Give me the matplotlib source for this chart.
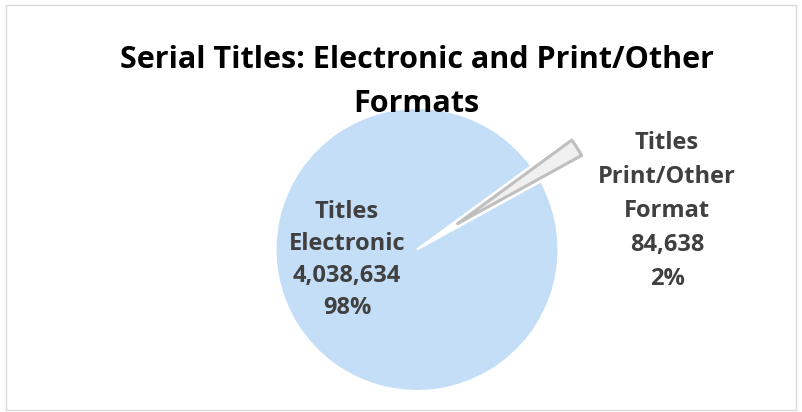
import matplotlib
matplotlib.use("Agg")
import matplotlib.pyplot as plt
from matplotlib.patches import Rectangle

# data
categories = ["Titles\nElectronic", "Titles\nPrint/Other\nFormat"]
counts = [4038634, 84638]
slice_colors = ["#C5DEF8", "#F0F0F0"]
title = "Serial Titles: Electronic and Print/Other\nFormats"

W, H = 802, 412
R = 141.5           # pie radius in pixels
cx, cy = 417, 162.5  # pie centre in pixels (from bottom)

fig = plt.figure(figsize=(W / 100, H / 100), dpi=100)
ax = fig.add_axes([0, 0, 1, 1])

total = sum(counts)
pct = [c / total * 100 for c in counts]

wedges, _ = ax.pie(counts, colors=slice_colors, startangle=28.8, counterclock=False,
                   explode=[0, 0.34], radius=1, center=(0, 0), frame=True,
                   wedgeprops=dict(linewidth=1.5, edgecolor="white"))
wedges[1].set_edgecolor("#BFBFBF")
wedges[1].set_linewidth(2.2)
wedges[1].set_joinstyle("round")
ax.set_xlim(-cx / R, (W - cx) / R)
ax.set_ylim(-cy / R, (H - cy) / R)
ax.set_aspect("auto")
ax.axis("off")

# data labels (last-line baseline, in pixels from bottom-left)
label_pos = [(347, 412 - 314), (667, 412 - 285)]
label_spacing = [1.44, 1.56]
for (lx, ly), ls, cat, c, p in zip(label_pos, label_spacing, categories, counts, pct):
    ax.text((lx - cx) / R, (ly - cy) / R, f"{cat}\n{c:,}\n{p:.0f}%", ha="center",
            va="baseline", fontsize=17, fontweight="bold", color="#404040",
            family="Open Sans", linespacing=ls)

fig.text(416.5 / W, (412 - 112) / H, title, ha="center", va="baseline", fontsize=22,
         fontweight="bold", color="black", family="Open Sans", linespacing=1.59,
         zorder=5)

fig.patches.append(Rectangle((6 / W, 2 / H), 790 / W, 405 / H, transform=fig.transFigure,
                             fill=False, edgecolor="#D9D9D9", linewidth=1))

fig.savefig("out.png", dpi=100)
